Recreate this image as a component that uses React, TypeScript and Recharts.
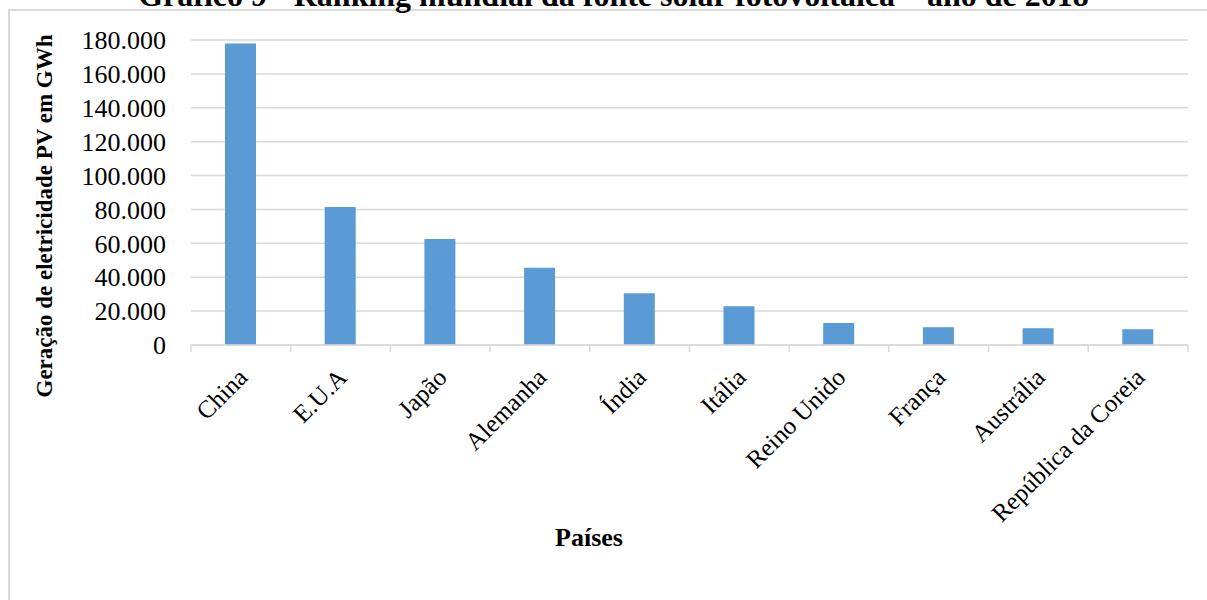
import React from "react";
import { BarChart, Bar, XAxis, YAxis, CartesianGrid } from "recharts";

// Geração fotovoltaica por país em 2018 (GWh)
const paises = [
  "China",
  "E.U.A",
  "Japão",
  "Alemanha",
  "Índia",
  "Itália",
  "Reino Unido",
  "França",
  "Austrália",
  "República da Coreia",
];
const geracaoGWh = [178000, 81500, 62600, 45600, 30500, 22800, 13000, 10500, 9900, 9300];
const ticksY = [0, 20000, 40000, 60000, 80000, 100000, 120000, 140000, 160000, 180000];

const data = paises.map((pais, i) => ({ pais, valor: geracaoGWh[i] }));

const FONT = '"Liberation Serif", "Times New Roman", serif';
const GRID = "#d9d9d9";
const BAR = "#5b9bd5";

const CHART_W = 1207;
const CHART_H = 600;
const MARGIN = { top: 40, right: 19, bottom: 0, left: 0 };
const Y_AXIS_W = 191;
const BAND = (CHART_W - MARGIN.left - MARGIN.right - Y_AXIS_W) / paises.length;

const formatThousands = (v: number) =>
  v === 0 ? "0" : v.toString().replace(/\B(?=(\d{3})+(?!\d))/g, ".");

// Rótulo inclinado do país, com marcas nas divisas entre categorias
const CountryTick = (props: any) => {
  const { x, y, payload, index } = props;
  const left = x - BAND / 2;
  const right = x + BAND / 2;
  return (
    <g>
      <line x1={left} x2={left} y1={y - 8} y2={y - 1} stroke={GRID} strokeWidth={1.5} />
      {index === paises.length - 1 && (
        <line x1={right} x2={right} y1={y - 8} y2={y - 1} stroke={GRID} strokeWidth={1.5} />
      )}
      <g transform={`translate(${x + 8},${y + 26})`}>
        <text
          transform="rotate(-45)"
          textAnchor="end"
          fontFamily={FONT}
          fontSize={25}
          fill="#000"
        >
          {payload.value}
        </text>
      </g>
    </g>
  );
};

const YTitle = () => (
  <text
    x={44}
    y={216}
    transform="rotate(-90, 44, 216)"
    textAnchor="middle"
    dominantBaseline="central"
    fontFamily={FONT}
    fontWeight="bold"
    fontSize={23}
    fill="#000"
  >
    Geração de eletricidade PV em GWh
  </text>
);

export default function App() {
  return (
    <div
      style={{
        position: "absolute",
        left: 0,
        top: 0,
        width: CHART_W,
        height: CHART_H,
        overflow: "hidden",
        background: "#fff",
      }}
    >
      {/* moldura do gráfico */}
      <div
        style={{
          position: "absolute",
          left: 8,
          top: 9,
          width: 1260,
          height: 660,
          border: `2px solid ${GRID}`,
        }}
      />
      <div
        style={{
          position: "absolute",
          left: 0,
          width: CHART_W,
          top: -20,
          textAlign: "center",
          fontFamily: FONT,
          fontWeight: "bold",
          fontSize: 32,
          lineHeight: "30px",
          whiteSpace: "nowrap",
          color: "#000",
          paddingLeft: 20,
          boxSizing: "border-box",
        }}
      >
        Gráfico 9 - Ranking mundial da fonte solar fotovoltaica – ano de 2018
      </div>
      <div style={{ position: "absolute", left: 0, top: 0 }}>
        <BarChart
          width={CHART_W}
          height={CHART_H}
          data={data}
          margin={MARGIN}
          barSize={31}
        >
          <CartesianGrid vertical={false} stroke={GRID} strokeWidth={1.5} />
          <XAxis
            dataKey="pais"
            interval={0}
            stroke={GRID}
            strokeWidth={1.5}
            tickLine={false}
            tickSize={6}
            tick={<CountryTick />}
            height={255}
          />
          <YAxis
            width={Y_AXIS_W}
            domain={[0, 180000]}
            ticks={ticksY}
            interval={0}
            tickFormatter={formatThousands}
            axisLine={false}
            tickLine={false}
            tickMargin={19}
            tick={{ fontFamily: FONT, fontSize: 26, fill: "#000" }}
            label={<YTitle />}
          />
          <Bar dataKey="valor" fill={BAR} isAnimationActive={false} />
        </BarChart>
      </div>
      <div
        style={{
          position: "absolute",
          left: 489,
          width: 200,
          top: 523,
          textAlign: "center",
          fontFamily: FONT,
          fontWeight: "bold",
          fontSize: 26,
          lineHeight: "30px",
          color: "#000",
        }}
      >
        Países
      </div>
    </div>
  );
}
